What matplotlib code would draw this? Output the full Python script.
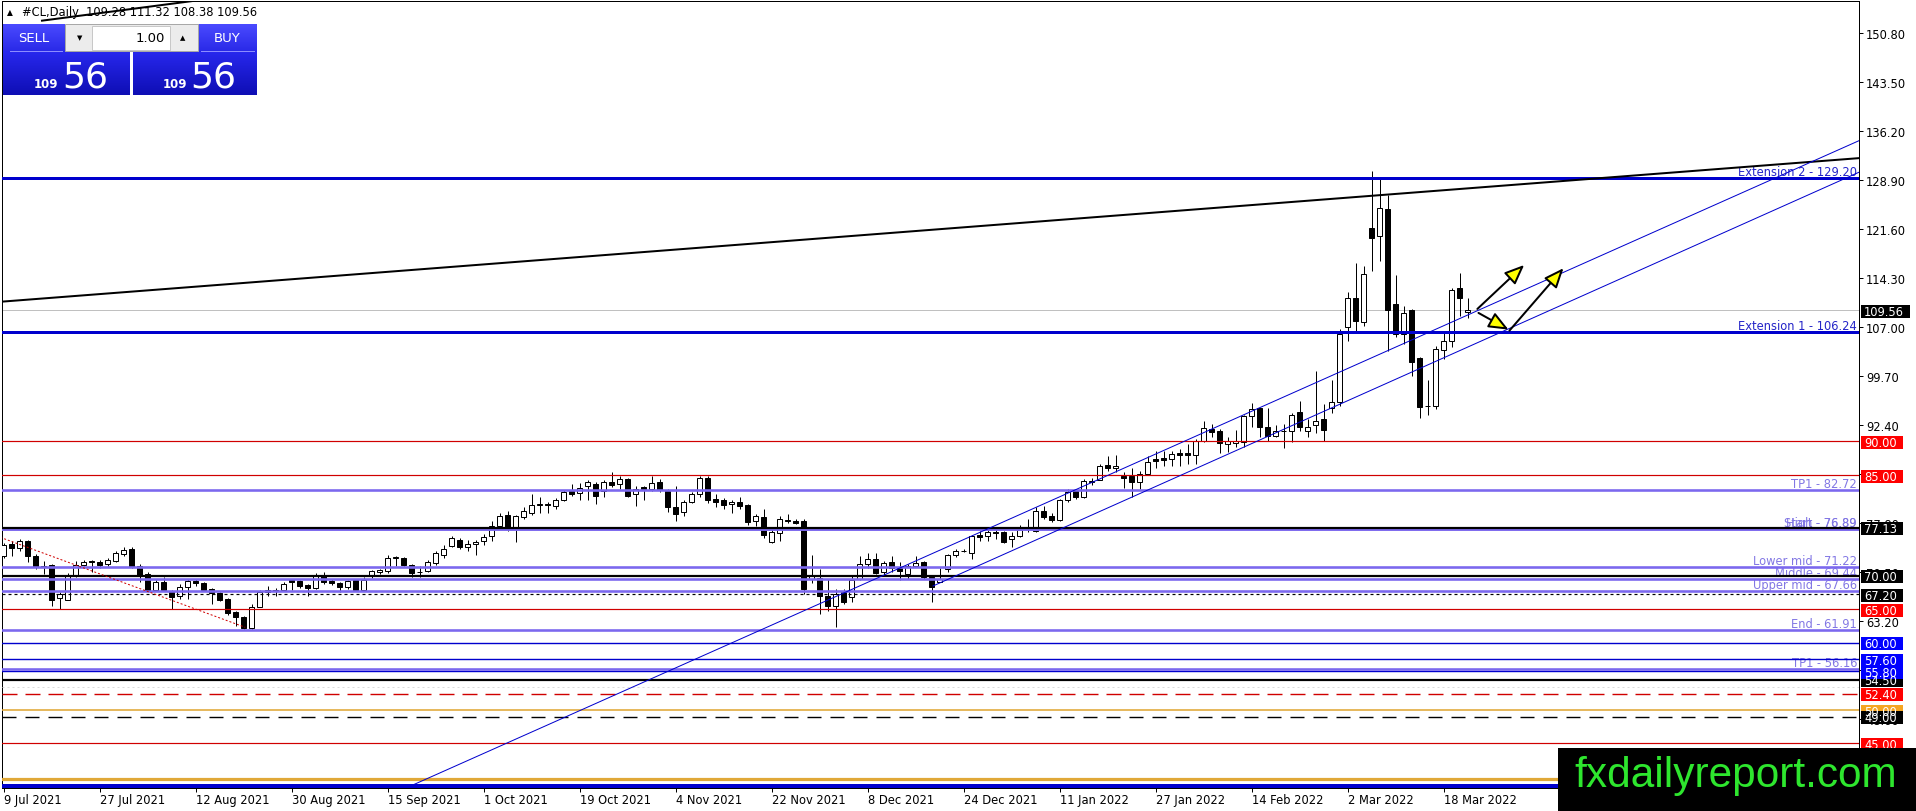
import matplotlib
matplotlib.use("Agg")
import matplotlib.pyplot as plt
import matplotlib.colors as mcolors
from matplotlib.patches import Rectangle, FancyArrowPatch
from matplotlib.transforms import blended_transform_factory
import numpy as np

plt.rcParams['font.family'] = ['DejaVu Sans']
plt.rcParams['lines.scale_dashes'] = False

# ---------------- DATA ----------------
opens = [72.9, 74.7, 74.1, 75.1, 72.98, 71.3, 71.6, 66.6, 66.4, 70.15,
         71.64, 72.2, 72.1, 71.75, 72.24, 73.23, 73.97, 71.5, 70.25, 67.9,
         69.0, 67.6, 67.0, 68.36, 69.25, 68.9, 68.0, 67.4, 66.5, 64.6,
         63.8, 62.15, 65.4, 67.6, 67.7, 67.9, 69.35, 69.2, 68.6, 68.2,
         70.0, 69.25, 68.86, 68.26, 69.35, 67.9, 69.9, 70.6, 70.65, 72.6,
         72.6, 71.64, 70.5, 70.75, 71.84, 73.1, 74.47, 75.36, 74.2, 74.7,
         75.1, 75.85, 77.45, 79.0, 77.2, 78.8, 79.4, 80.5, 80.6, 80.3,
         81.3, 82.66, 82.3, 83.3, 83.65, 82.66, 83.9, 83.65, 84.4, 82.2,
         83.15, 82.9, 83.9, 82.66, 80.2, 79.5, 81.0, 82.2, 84.5, 81.4,
         81.2, 80.7, 80.9, 80.5, 78.2, 78.7, 75.0, 76.35, 78.3, 78.2,
         78.2, 69.5, 69.6, 67.0, 65.5, 67.5, 66.8, 69.5, 71.7, 72.5,
         70.6, 72.0, 71.2, 70.2, 71.5, 72.0, 69.75, 69.1, 71.0, 73.0,
         73.6, 73.3, 76.1, 75.96, 76.5, 76.55, 75.46, 75.96, 77.0, 76.7,
         79.6, 78.9, 78.35, 81.3, 82.55, 81.67, 84.0, 84.3, 86.5, 86.0,
         84.9, 84.9, 84.0, 85.15, 87.4, 87.5, 87.4, 88.2, 88.2, 87.97,
         90.1, 91.85, 91.6, 89.66, 89.7, 89.96, 93.83, 94.9, 92.2, 90.75,
         91.5, 91.6, 94.4, 91.6, 92.4, 93.3, 94.9, 95.9, 107.0, 111.3,
         107.8, 121.8, 120.55, 124.6, 110.5, 106.0, 109.5, 102.4, 95.2, 95.2,
         103.6, 105.0, 112.9, 109.28]
highs = [74.9, 75.2, 75.4, 75.3, 73.2, 72.2, 71.8, 67.5, 70.4, 72.2,
         72.3, 72.3, 72.3, 72.6, 73.6, 74.2, 74.2, 71.8, 70.5, 69.3,
         69.75, 67.8, 68.8, 69.5, 69.5, 69.1, 68.2, 67.6, 66.7, 64.8,
         64.0, 65.8, 67.8, 68.5, 68.1, 69.0, 69.5, 69.4, 68.8, 70.4,
         70.5, 69.5, 69.0, 69.4, 69.5, 69.75, 70.9, 71.0, 73.1, 72.9,
         72.8, 71.8, 71.5, 72.3, 73.6, 74.5, 75.9, 75.6, 75.36, 75.3,
         76.2, 78.2, 79.4, 79.7, 79.0, 80.2, 82.2, 81.7, 81.0, 81.6,
         82.7, 83.65, 83.8, 84.2, 84.0, 84.3, 85.4, 84.8, 84.6, 83.3,
         83.4, 84.9, 84.4, 82.9, 83.3, 81.3, 82.4, 84.9, 84.9, 82.2,
         81.5, 81.2, 81.7, 80.7, 79.2, 79.9, 76.9, 78.9, 79.2, 78.4,
         78.4, 73.0, 71.0, 69.5, 68.0, 68.0, 70.0, 72.97, 73.4, 73.4,
         72.2, 72.9, 72.0, 71.8, 72.9, 72.2, 70.0, 71.2, 73.2, 74.0,
         73.9, 76.1, 76.7, 77.2, 77.2, 76.7, 76.45, 77.55, 78.5, 80.2,
         80.4, 79.4, 81.4, 82.9, 82.8, 84.4, 84.6, 86.6, 87.8, 88.0,
         85.4, 86.1, 85.6, 87.8, 88.6, 88.5, 88.5, 88.9, 89.6, 90.4,
         93.1, 92.6, 91.9, 90.6, 91.7, 94.0, 95.7, 95.0, 94.9, 92.5,
         92.6, 94.2, 95.96, 93.3, 100.5, 95.6, 99.1, 106.7, 112.3, 116.6,
         116.1, 130.3, 129.2, 126.7, 114.8, 110.2, 109.7, 102.6, 99.1, 104.2,
         106.3, 112.8, 115.1, 111.32]
lows = [72.6, 72.98, 73.6, 72.1, 71.0, 70.25, 65.5, 65.0, 66.3, 69.75,
        71.4, 70.5, 71.2, 71.5, 72.0, 72.98, 71.1, 69.1, 67.7, 67.7,
        67.7, 65.0, 66.5, 66.5, 68.5, 67.7, 65.7, 66.2, 64.2, 62.55,
        62.0, 62.0, 65.3, 67.0, 67.0, 67.8, 67.9, 68.2, 67.0, 68.0,
        68.8, 68.6, 67.5, 68.0, 67.7, 67.7, 69.7, 70.3, 70.4, 71.5,
        71.4, 69.75, 69.75, 70.5, 71.6, 72.6, 74.2, 74.0, 73.7, 73.0,
        74.5, 75.2, 77.2, 76.7, 75.0, 78.5, 79.0, 79.4, 79.3, 80.0,
        81.1, 81.9, 81.2, 81.2, 80.7, 81.7, 83.2, 82.9, 81.7, 80.4,
        81.2, 82.6, 82.5, 79.5, 78.2, 78.9, 80.8, 81.7, 80.8, 80.2,
        79.9, 79.4, 80.0, 77.6, 77.4, 75.6, 74.9, 75.2, 77.9, 77.7,
        67.2, 68.9, 64.3, 64.8, 62.3, 65.7, 66.1, 69.3, 71.2, 70.2,
        70.0, 70.6, 69.3, 69.5, 71.3, 69.5, 66.0, 69.0, 70.6, 72.8,
        73.5, 72.5, 75.2, 75.2, 75.5, 74.9, 74.2, 75.7, 76.45, 76.45,
        78.4, 77.95, 78.2, 81.0, 81.4, 81.5, 83.5, 84.2, 85.6, 85.4,
        83.0, 81.7, 82.9, 85.0, 86.1, 86.3, 86.3, 86.4, 86.6, 86.6,
        89.9, 90.6, 88.3, 88.4, 89.1, 89.1, 92.1, 90.6, 90.1, 90.6,
        88.96, 89.96, 91.6, 90.6, 91.3, 90.1, 94.3, 95.3, 105.0, 106.2,
        107.2, 115.4, 116.9, 103.5, 105.5, 104.5, 99.8, 93.45, 93.9, 94.8,
        102.3, 104.0, 108.7, 108.38]
closes = [74.57, 74.1, 75.1, 72.9, 71.24, 71.5, 66.4, 67.3, 70.15, 71.64,
          72.09, 71.99, 71.64, 72.34, 73.38, 73.8, 71.24, 70.0, 67.9, 69.0,
          67.9, 66.8, 68.36, 69.25, 68.86, 67.9, 67.4, 66.4, 64.4, 63.8,
          62.15, 65.4, 67.6, 67.9, 67.9, 68.7, 69.0, 68.4, 68.2, 69.9,
          69.0, 68.86, 68.26, 69.25, 67.9, 69.35, 70.65, 70.8, 72.6, 72.75,
          71.64, 70.4, 70.6, 72.1, 73.33, 73.97, 75.56, 74.2, 74.7, 75.0,
          75.7, 77.45, 78.9, 77.2, 78.85, 79.6, 80.5, 80.6, 80.5, 81.3,
          82.5, 82.17, 83.0, 83.9, 81.9, 83.9, 83.5, 84.4, 81.9, 82.9,
          82.9, 83.8, 82.8, 80.2, 79.2, 81.0, 82.2, 84.5, 81.2, 80.9,
          80.5, 80.9, 80.3, 78.0, 78.9, 76.0, 76.55, 78.4, 78.2, 77.9,
          68.0, 69.9, 66.9, 65.5, 67.3, 66.1, 69.3, 71.7, 72.5, 70.4,
          71.9, 71.1, 70.7, 71.5, 71.9, 69.75, 68.3, 69.5, 73.0, 73.7,
          73.7, 75.96, 75.8, 76.45, 76.4, 75.06, 75.86, 76.85, 77.1, 79.6,
          78.8, 78.3, 81.2, 82.4, 81.67, 84.15, 84.05, 86.4, 86.0, 86.4,
          84.6, 84.0, 85.1, 86.98, 87.1, 87.3, 88.1, 88.0, 87.9, 90.1,
          91.95, 91.45, 89.76, 90.0, 90.0, 93.83, 94.82, 92.09, 90.75, 91.6,
          91.6, 93.9, 92.09, 92.2, 93.08, 91.74, 95.8, 106.0, 111.3, 108.0,
          114.9, 120.25, 124.7, 109.5, 106.0, 109.1, 101.9, 95.1, 95.3, 103.7,
          104.9, 112.6, 111.3, 109.56]

date_labels = ["9 Jul 2021", "27 Jul 2021", "12 Aug 2021", "30 Aug 2021",
               "15 Sep 2021", "1 Oct 2021", "19 Oct 2021", "4 Nov 2021",
               "22 Nov 2021", "8 Dec 2021", "24 Dec 2021", "11 Jan 2022",
               "27 Jan 2022", "14 Feb 2022", "2 Mar 2022", "18 Mar 2022"]
date_label_bars = [0, 12, 24, 36, 48, 60, 72, 84, 96, 108, 120, 132, 144, 156, 168, 180]

price_ticks = [150.80, 143.50, 136.20, 128.90, 121.60, 114.30, 107.00, 99.70,
               92.40, 85.10, 77.80, 70.50, 63.20, 55.90, 48.60, 41.30]

# named horizontal levels (value, label drawn above the line)
level_values = [129.20, 106.24, 82.72, 76.89, 76.89, 71.22, 69.44, 67.66, 61.91, 56.16]
level_names = ["Extension 2 - 129.20", "Extension 1 - 106.24", "TP1 - 82.72",
               "Start - 76.89", "High - 76.89", "Lower mid - 71.22", "Middle - 69.44",
               "Upper mid - 67.66", "End - 61.91", "TP1 - 56.16"]

# plain horizontal lines
red_levels = [90.00, 85.00, 65.00, 45.00]
black_levels = [77.13, 70.00, 54.50]
blue_levels = [60.00, 57.60, 55.80]
orange_levels = [50.00, 39.70]
black_dashed_levels = [67.20, 49.00]
red_dashed_levels = [52.40]
gray_dotted_levels = [53.40]
bottom_blue_level = 38.70
last_price = 109.56

# right-axis boxes: (value, colour key) in drawing order
box_values = [90.00, 85.00, 77.13, 70.00, 67.20, 65.00, 60.00, 57.60, 54.50, 55.80,
              52.40, 50.00, 49.00, 45.00, 109.56]
box_kinds = ["red", "red", "black", "black", "black", "red", "blue", "blue", "black", "blue",
             "red", "orange", "black", "red", "black"]

# trend lines (bar index, price)
black_trend = ([-0.2, 231.9], [110.82, 132.2])
black_trend_top = ([4.8, 30.0], [152.68, 156.6])
channel_upper = ([50.0, 231.9], [38.2, 134.8])
channel_lower = ([116.17, 231.9], [68.46, 130.1])
red_dotted_trend = ([-0.4, 30.2], [75.7, 62.3])

arrow_starts = [(184.2, 109.73), (184.34, 109.14), (188.21, 106.5)]
arrow_ends = [(190.05, 116.28), (188.09, 106.65), (194.96, 115.8)]

symbol_title = "#CL,Daily  109.28 111.32 108.38 109.56"
bid_big, bid_small = "56", "109"
lot_size = "1.00"

# ---------------- FIGURE ----------------
W, H, DPI = 1916, 812, 100
fig = plt.figure(figsize=(W / DPI, H / DPI), dpi=DPI)
fig.patch.set_facecolor("white")
PX = 72.0 / DPI  # points per pixel

L, R, T, B = 2, 1859, 2, 789
ax = fig.add_axes([L / W, 1 - B / H, (R - L) / W, (B - T) / H])
ax.set_xlim(-0.2, 231.9)
ax.set_ylim(38.36, 155.61)
ax.set_facecolor("white")
for s in ax.spines.values():
    s.set_linewidth(1 * PX)
    s.set_color("black")

FS = 8.3
blend = blended_transform_factory(ax.transAxes, ax.transData)
axw_px = R - L
px_per_unit = (B - T) / (155.61 - 38.36)

# candles
o = np.array(opens); c = np.array(closes); h = np.array(highs); lo = np.array(lows)
idx = np.arange(len(c))
ax.vlines(idx, lo, h, color="black", lw=1 * PX, zorder=3)
up = c >= o
ax.bar(idx[up], (c - o)[up], bottom=o[up], width=0.6, facecolor="white",
       edgecolor="black", linewidth=1 * PX, zorder=4)
ax.bar(idx[~up], (o - c)[~up], bottom=c[~up], width=0.6, facecolor="black",
       edgecolor="black", linewidth=1 * PX, zorder=4)

# horizontal lines
RED = "#d00000"; PURPLE = "#7b68ee"; BLUE = "#0000cd"; ORANGE = "#e0a838"
for v in red_levels:
    ax.axhline(v, color=RED, lw=1.2 * PX, zorder=5)
for v in black_levels:
    ax.axhline(v, color="black", lw=2.2 * PX, zorder=5.2)
for v in blue_levels:
    ax.axhline(v, color=BLUE, lw=1.4 * PX, zorder=5)
ax.axhline(orange_levels[0], color=ORANGE, lw=1.6 * PX, zorder=5)
ax.axhline(orange_levels[1], color=ORANGE, lw=3.2 * PX, zorder=5)
ax.axhline(black_dashed_levels[0], color="black", lw=1.2 * PX,
           linestyle=(0, (3 * PX, 3 * PX)), zorder=5)
ax.axhline(black_dashed_levels[1], color="black", lw=1.4 * PX,
           linestyle=(0, (14 * PX, 9 * PX)), zorder=5)
for v in red_dashed_levels:
    ax.axhline(v, color=RED, lw=1.4 * PX, linestyle=(0, (15 * PX, 8 * PX)), zorder=5)
for v in gray_dotted_levels:
    ax.axhline(v, color="#dcdcdc", lw=1 * PX, linestyle=(0, (2 * PX, 3 * PX)), zorder=5)
ax.axhline(bottom_blue_level, color=BLUE, lw=4 * PX, zorder=5)
ax.axhline(last_price, color="#c0c0c0", lw=1 * PX, zorder=2)

# named level lines + labels
for v, name in zip(level_values, level_names):
    if name.startswith("Extension"):
        ax.axhline(v, color=BLUE, lw=3 * PX, zorder=5)
        tc = "#2424c8"
    else:
        ax.axhline(v, color=PURPLE, lw=2.6 * PX, zorder=5)
        tc = "#8277e4"
    ax.annotate(name, xy=(1, v), xycoords=blend, xytext=(-2, 3),
                textcoords="offset pixels", ha="right", va="baseline",
                fontsize=FS, color=tc, zorder=4.6, annotation_clip=False)

# trend lines
ax.plot(*black_trend, color="black", lw=2 * PX, zorder=6)
ax.plot(*black_trend_top, color="black", lw=2 * PX, zorder=6)
ax.plot(*channel_upper, color=BLUE, lw=1 * PX, zorder=6)
ax.plot(*channel_lower, color=BLUE, lw=1 * PX, zorder=6)
ax.plot(*red_dotted_trend, color=RED, lw=1 * PX, linestyle=(0, (2 * PX, 2 * PX)), zorder=6)

# arrows
for s, e in zip(arrow_starts, arrow_ends):
    arr = FancyArrowPatch(s, e, arrowstyle="-|>,head_length=0.6,head_width=0.25",
                          mutation_scale=20, shrinkA=0, shrinkB=0,
                          facecolor="#ffff00", edgecolor="black", lw=2 * PX, zorder=7)
    ax.add_patch(arr)

# axes ticks
ax.yaxis.tick_right()
ax.set_yticks(price_ticks)
ax.set_yticklabels([f"{v:.2f}" for v in price_ticks])
ax.tick_params(axis="y", direction="out", length=4 * PX, width=1 * PX, pad=3 * PX,
               labelsize=FS, colors="black")
ax.set_xticks(date_label_bars)
ax.set_xticklabels(date_labels)
for lab in ax.get_xticklabels():
    lab.set_horizontalalignment("left")
ax.tick_params(axis="x", direction="out", length=4 * PX, width=1 * PX, pad=1.5 * PX,
               labelsize=FS, colors="black")

# right-axis value boxes
box_fc = {"red": "#ff0000", "black": "#000000", "blue": "#0000ff", "orange": "#f5a623"}
bh = 13 / px_per_unit
for v, kind in zip(box_values, box_kinds):
    txt = f"{v:.2f}"
    wpx = 7 * len(txt) + 7
    ax.add_patch(Rectangle((1 + 2 / axw_px, v - bh / 2 - 1.2 / px_per_unit), wpx / axw_px, bh,
                           transform=blend, facecolor=box_fc[kind], edgecolor="none",
                           clip_on=False, zorder=10))
    ax.annotate(txt, xy=(1, v), xycoords=blend, xytext=(5, -1.2),
                textcoords="offset pixels", ha="left", va="center",
                fontsize=FS, color="white", zorder=11, annotation_clip=False)

# title row
ax.annotate("\u25b2", xy=(10, H - 13), xycoords="figure pixels", ha="center", va="center",
            fontsize=5.5, color="black", zorder=4)
ax.annotate(symbol_title, xy=(22, H - 13), xycoords="figure pixels", ha="left", va="center",
            fontsize=FS, color="black", zorder=4)

# ---------------- overlay: trade panel + watermark ----------------
axp = fig.add_axes([0, 0, 1, 1], zorder=20)
axp.patch.set_alpha(0)
axp.axis("off")


def grad(x0, x1, y0, y1, ctop, cbot):
    g = np.linspace(0, 1, 64)[:, None, None]
    ct = np.array(mcolors.to_rgb(ctop))[None, None, :]
    cb = np.array(mcolors.to_rgb(cbot))[None, None, :]
    img = ct * (1 - g) + cb * g
    img = np.repeat(img, 2, axis=1)
    axp.imshow(img, extent=(x0, x1, y1, y0), aspect="auto", interpolation="bilinear", zorder=1)


grad(3, 65, 25, 52, "#4a4aff", "#2a2ae8")
grad(198, 257, 25, 52, "#4a4aff", "#2a2ae8")
grad(3, 130, 52, 96, "#2828ee", "#0e0eb4")
grad(133, 257, 52, 96, "#2828ee", "#0e0eb4")
axp.add_patch(Rectangle((65, 25), 133, 27, facecolor="#ececec", edgecolor="#a8a8a8", lw=1 * PX, zorder=2))
axp.add_patch(Rectangle((92, 26.5), 78, 24, facecolor="white", edgecolor="#c8c8c8", lw=1 * PX, zorder=3))
axp.plot([10, 62], [51.5, 51.5], color="#8c8cff", lw=1 * PX, zorder=3)
axp.plot([201, 254], [51.5, 51.5], color="#8c8cff", lw=1 * PX, zorder=3)
axp.text(34, 38.5, "SELL", color="white", fontsize=9.5, ha="center", va="center", zorder=4)
axp.text(227, 38.5, "BUY", color="white", fontsize=9.5, ha="center", va="center", zorder=4)
axp.text(80, 38.5, "\u25bc", color="black", fontsize=5, ha="center", va="center", zorder=4)
axp.text(183, 38.5, "\u25b2", color="black", fontsize=5, ha="center", va="center", zorder=4)
axp.text(165, 38.5, lot_size, color="black", fontsize=9.5, ha="right", va="center", zorder=4)
axp.text(58, 88, bid_small, color="white", fontsize=8.5, fontweight="bold", ha="right", va="baseline", zorder=4)
axp.text(62, 88, bid_big, color="white", fontsize=26, ha="left", va="baseline", zorder=4)
axp.text(187, 88, bid_small, color="white", fontsize=8.5, fontweight="bold", ha="right", va="baseline", zorder=4)
axp.text(190, 88, bid_big, color="white", fontsize=26, ha="left", va="baseline", zorder=4)

axp.add_patch(Rectangle((1558, 749), W - 1558, H - 749, facecolor="black", edgecolor="none", zorder=5))
axp.text(1736, 776, "fxdailyreport.com", color="#2ee62e", fontsize=30.5,
         family=["Liberation Sans", "DejaVu Sans"], ha="center", va="center", zorder=6)
axp.set_xlim(0, W)
axp.set_ylim(H, 0)

fig.savefig("out.png", dpi=DPI, facecolor="white")
